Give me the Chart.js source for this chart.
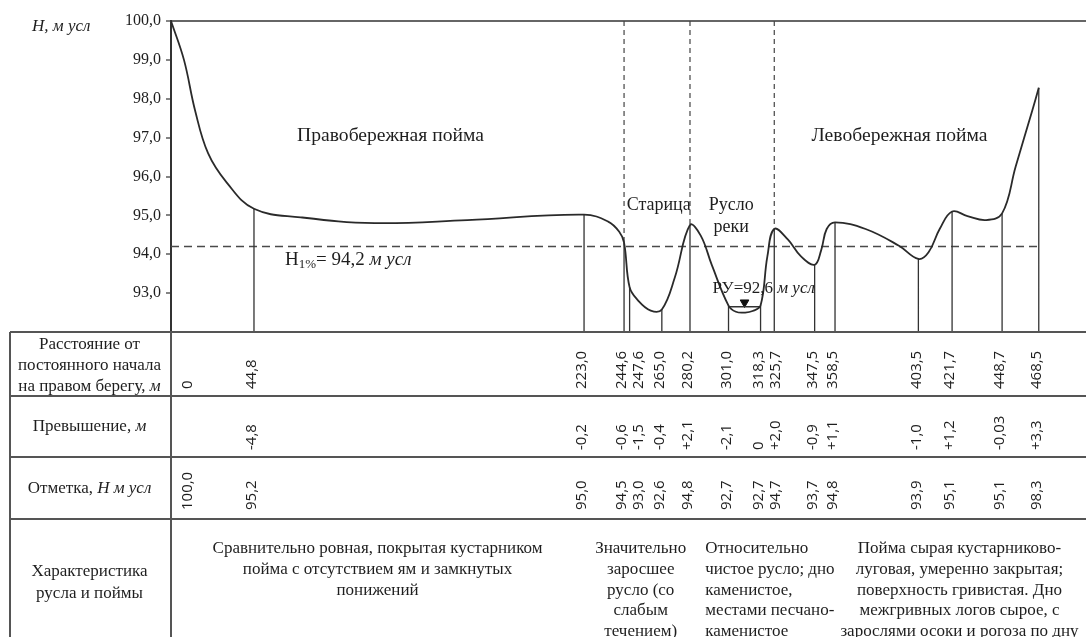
<!DOCTYPE html>
<html lang="ru">
<head>
<meta charset="utf-8">
<title>Поперечный профиль русла и поймы</title>
<script src="https://cdn.jsdelivr.net/npm/chart.js@4.4.0/dist/chart.umd.min.js"></script>
<style>
  html, body { margin: 0; padding: 0; background: #fff; }
  #wrap { width: 1086px; height: 637px; }
</style>
</head>
<body>
<div id="wrap"><canvas id="profileChart" width="1086" height="637"></canvas></div>
<script>
// пикеты (расстояние от постоянного начала, м)
const stations = [0, 44.8, 223.0, 244.6, 247.6, 265.0, 280.2, 301.0, 318.3, 325.7, 347.5, 358.5, 403.5, 421.7, 448.7, 468.5];
// превышение, м
const riseLabels = ['', '-4,8', '-0,2', '-0,6', '-1,5', '-0,4', '+2,1', '-2,1', '0', '+2,0', '-0,9', '+1,1', '-1,0', '+1,2', '-0,03', '+3,3'];
// отметка, м усл
const marks = [100.0, 95.2, 95.0, 94.5, 93.0, 92.6, 94.8, 92.7, 92.7, 94.7, 93.7, 94.8, 93.9, 95.1, 95.1, 98.3];

// линия профиля
const profileX = [0, 7, 13, 20, 30, 44.8, 70, 110, 160, 223.0, 236, 242, 244.6, 247.6, 252, 259, 265.0, 272, 280.2, 286, 292, 301.0, 305, 310, 314, 318.3, 322, 325.7, 333, 340, 347.5, 351, 354, 358.5, 375, 393, 403.5, 409, 415, 421.7, 430, 440, 448.7, 456, 465, 468.5];
const profileH = [100.0, 99.0, 97.7, 96.6, 95.85, 95.17, 94.95, 94.8, 94.88, 95.02, 94.84, 94.58, 94.3, 93.15, 92.82, 92.55, 92.58, 93.4, 94.75, 94.48, 93.72, 92.68, 92.52, 92.5, 92.54, 92.68, 93.95, 94.65, 94.38, 93.95, 93.73, 94.1, 94.65, 94.82, 94.65, 94.22, 93.88, 94.05, 94.65, 95.1, 94.98, 94.88, 95.05, 96.25, 97.7, 98.28];

// границы участков (пунктир сверху)
const borderStations = [244.6, 280.2, 325.7];
const floodLevel = 94.2;      // H1%
const waterLevel = 92.65;     // РУ
const waterFrom = 301.0, waterTo = 318.3;
const yTicks = [93, 94, 95, 96, 97, 98, 99, 100];

const SERIF = '"Liberation Serif", "Times New Roman", serif';
const SANS = '"Open Sans", "Liberation Sans", sans-serif';
const INK = '#1e1e1e';

function hAt(s) {
    const i = profileX.indexOf(s);
    return i >= 0 ? profileH[i] : null;
}

// вертикальные линии одним набором, разрывы через null
const verticalPts = [];
stations.slice(1).forEach(s => {
    verticalPts.push({ x: s, y: 92 }, { x: s, y: hAt(s) }, { x: s, y: null });
});
const dashedPts = [];
borderStations.forEach(s => {
    dashedPts.push({ x: s, y: 100 }, { x: s, y: hAt(s) }, { x: s, y: null });
});

// подписи внутри графика
const notes = [
    { x: 118.5, y: 97.04, parts: [{ t: 'Правобережная пойма' }], size: 19.6, align: 'center' },
    { x: 393.3, y: 97.04, parts: [{ t: 'Левобережная пойма' }], size: 19.6, align: 'center' },
    { x: 263.3, y: 95.25, parts: [{ t: 'Старица' }], size: 18, align: 'center' },
    { x: 302.5, y: 95.25, parts: [{ t: 'Русло' }], size: 18, align: 'center' },
    { x: 302.5, y: 94.70, parts: [{ t: 'реки' }], size: 18, align: 'center' },
    { x: 292.4, y: 93.13, parts: [{ t: 'РУ=92,6 ' }, { t: 'м усл', it: true }], size: 17, align: 'left' },
    { x: 61.5, y: 93.86, parts: [{ t: 'H' }, { t: '1%', sub: true }, { t: '= 94,2 ' }, { t: 'м усл', it: true }], size: 19, align: 'left' }
];

// таблица под графиком
const rowLines = [332, 396, 457, 519];
const headRows = [
    [{ y: 345, parts: [{ t: 'Расстояние от' }] },
     { y: 366, parts: [{ t: 'постоянного начала' }] },
     { y: 387, parts: [{ t: 'на правом берегу, ' }, { t: 'м', it: true }] }],
    [{ y: 427, parts: [{ t: 'Превышение, ' }, { t: 'м', it: true }] }],
    [{ y: 489, parts: [{ t: 'Отметка, ' }, { t: 'Н м усл', it: true }] }],
    [{ y: 572, parts: [{ t: 'Характеристика' }] },
     { y: 594, parts: [{ t: 'русла и поймы' }] }]
];
const descBlocks = [
    { x: 111.5, align: 'center', lines: ['Сравнительно ровная, покрытая кустарником', 'пойма с отсутствием ям и замкнутых', 'понижений'] },
    { x: 253.6, align: 'center', lines: ['Значительно', 'заросшее', 'русло (со', 'слабым', 'течением)'] },
    { x: 288.4, align: 'left', lines: ['Относительно', 'чистое русло; дно', 'каменистое,', 'местами песчано-', 'каменистое'] },
    { x: 425.7, align: 'center', lines: ['Пойма сырая кустарниково-', 'луговая, умеренно закрытая;', 'поверхность гривистая. Дно', 'межгривных логов сырое, с', 'зарослями осоки и рогоза по дну'] }
];

function drawParts(ctx, parts, x, y, size, align) {
    const fontOf = p => (p.it ? 'italic ' : '') + (p.sub ? Math.round(size * 0.66) : size) + 'px ' + SERIF;
    let w = 0;
    parts.forEach(p => { ctx.font = fontOf(p); w += ctx.measureText(p.t).width; });
    let cx = align === 'center' ? x - w / 2 : x;
    ctx.textAlign = 'left';
    ctx.textBaseline = 'middle';
    parts.forEach(p => {
        ctx.font = fontOf(p);
        ctx.fillText(p.t, cx, p.sub ? y + size * 0.28 : y);
        cx += ctx.measureText(p.t).width;
    });
}

const profilePlugin = {
    id: 'profileTable',
    beforeDraw(chart) {
        const ctx = chart.ctx;
        ctx.save();
        ctx.fillStyle = '#fff';
        ctx.fillRect(0, 0, chart.width, chart.height);
        ctx.restore();
    },
    afterDraw(chart) {
        const ctx = chart.ctx;
        const xs = chart.scales.x, ys = chart.scales.y;
        const area = chart.chartArea;
        const tableLeft = 10;
        ctx.save();
        ctx.fillStyle = INK;

        // подписи на графике
        notes.forEach(n => drawParts(ctx, n.parts, xs.getPixelForValue(n.x), ys.getPixelForValue(n.y), n.size, n.align));
        drawParts(ctx, [{ t: 'H, м усл', it: true }], area.left - 139, area.top + 6, 17, 'left');

        // сетка таблицы
        ctx.strokeStyle = '#555';
        ctx.lineWidth = 2;
        ctx.beginPath();
        rowLines.forEach(y => { ctx.moveTo(tableLeft, y); ctx.lineTo(chart.width, y); });
        ctx.moveTo(tableLeft, rowLines[0]); ctx.lineTo(tableLeft, chart.height);
        ctx.moveTo(area.left, rowLines[0]); ctx.lineTo(area.left, chart.height);
        ctx.stroke();

        // заголовки строк
        const headX = (tableLeft + area.left) / 2 - 1;
        headRows.forEach(row => row.forEach(l => drawParts(ctx, l.parts, headX, l.y, 17, 'center')));

        // положения вертикальных подписей, раздвинутые без наложения
        const pos = [];
        let prev = -Infinity;
        stations.forEach(s => {
            const p = Math.max(xs.getPixelForValue(s) - 2, area.left + 17, prev + 17);
            pos.push(p);
            prev = p;
        });
        const rows = [
            { bottom: 389, labels: stations.map(s => s === 0 ? '0' : s.toFixed(1).replace('.', ',')) },
            { bottom: 450, labels: riseLabels },
            { bottom: 510, labels: marks.map(v => v.toFixed(1).replace('.', ',')) }
        ];
        ctx.font = '15px ' + SANS;
        ctx.textAlign = 'left';
        ctx.textBaseline = 'middle';
        rows.forEach(r => {
            r.labels.forEach((t, i) => {
                if (!t) return;
                ctx.save();
                ctx.translate(pos[i], r.bottom);
                ctx.rotate(-Math.PI / 2);
                ctx.fillText(t, 0, 0);
                ctx.restore();
            });
        });

        // характеристика русла и поймы
        descBlocks.forEach(b => {
            const bx = xs.getPixelForValue(b.x);
            b.lines.forEach((t, i) => drawParts(ctx, [{ t }], bx, 549 + i * 20.6, 17, b.align));
        });
        ctx.restore();
    }
};

const ctx = document.getElementById('profileChart').getContext('2d');
const profileChart = new Chart(ctx, {
    type: 'line',
    data: {
        datasets: [
            {
                label: 'Профиль',
                data: profileX.map((x, i) => ({ x, y: profileH[i] })),
                borderColor: '#2a2a2a',
                borderWidth: 1.8,
                tension: 0.4,
                pointRadius: 0,
                fill: false
            },
            {
                label: 'Пикеты',
                data: verticalPts,
                borderColor: '#333',
                borderWidth: 1.3,
                spanGaps: false,
                pointRadius: 0
            },
            {
                label: 'Границы',
                data: dashedPts,
                borderColor: '#444',
                borderWidth: 1.2,
                borderDash: [5, 4],
                spanGaps: false,
                pointRadius: 0
            },
            {
                label: 'H1%',
                data: [{ x: 0, y: floodLevel }, { x: stations[stations.length - 1], y: floodLevel }],
                borderColor: '#4a4a4a',
                borderWidth: 1.3,
                borderDash: [8, 5],
                pointRadius: 0
            },
            {
                label: 'РУ',
                data: [{ x: waterFrom, y: waterLevel }, { x: waterTo, y: waterLevel }],
                borderColor: '#333',
                borderWidth: 1.3,
                pointRadius: 0
            },
            {
                label: 'Знак уреза',
                data: [{ x: (waterFrom + waterTo) / 2, y: waterLevel + 0.11 }],
                showLine: false,
                pointStyle: 'triangle',
                rotation: 180,
                pointRadius: 5,
                backgroundColor: '#111',
                borderColor: '#111',
                borderWidth: 1
            }
        ]
    },
    options: {
        responsive: false,
        animation: false,
        layout: { autoPadding: false, padding: { top: 21, bottom: 305, left: 0, right: 0 } },
        plugins: { legend: { display: false }, tooltip: { enabled: false } },
        elements: { line: { tension: 0 } },
        scales: {
            x: { type: 'linear', min: 0, max: 494, display: false },
            y: {
                type: 'linear',
                min: 92,
                max: 100,
                afterFit(scale) { scale.width = 171; },
                afterBuildTicks(scale) { scale.ticks = [92].concat(yTicks).map(v => ({ value: v })); },
                ticks: {
                    callback: v => yTicks.includes(v) ? v.toFixed(1).replace('.', ',') : '',
                    font: { family: SERIF, size: 16 },
                    color: INK,
                    padding: 5
                },
                grid: {
                    color: c => c.tick && c.tick.value === 100 ? '#666' : 'rgba(0,0,0,0)',
                    lineWidth: 2,
                    tickColor: c => c.tick && yTicks.includes(c.tick.value) ? '#333' : 'rgba(0,0,0,0)',
                    tickWidth: 1.2,
                    tickLength: 5
                },
                border: { display: true, color: '#333', width: 2 }
            }
        }
    },
    plugins: [profilePlugin]
});
</script>
</body>
</html>
